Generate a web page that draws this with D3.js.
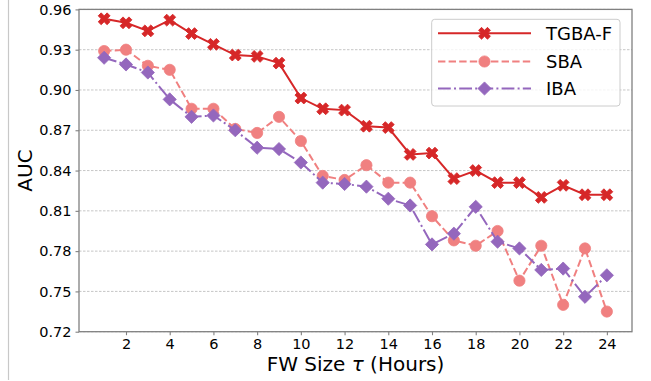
<!DOCTYPE html>
<html>
<head>
<meta charset="utf-8">
<script src="https://cdn.jsdelivr.net/npm/d3@7"></script>
<style>
  body { margin: 0; background: #fff; }
  text { font-family: "DejaVu Sans", sans-serif; fill: #000; }
</style>
</head>
<body>
<div id="chart"></div>
<script>
// values
var hours = [1, 2, 3, 4, 5, 6, 7, 8, 9, 10, 11, 12, 13, 14, 15, 16, 17, 18, 19, 20, 21, 22, 23, 24];
var tgbaF = [0.953, 0.950, 0.944, 0.952, 0.942, 0.934, 0.926, 0.925, 0.920, 0.894, 0.886, 0.885,
             0.873, 0.872, 0.852, 0.853, 0.834, 0.840, 0.831, 0.831, 0.820, 0.829, 0.822, 0.822];
var sba = [0.929, 0.930, 0.918, 0.915, 0.886, 0.886, 0.871, 0.868, 0.880, 0.862, 0.836, 0.833,
           0.844, 0.831, 0.831, 0.806, 0.788, 0.784, 0.795, 0.758, 0.784, 0.740, 0.782, 0.735];
var iba = [0.924, 0.919, 0.913, 0.893, 0.880, 0.881, 0.870, 0.857, 0.856, 0.846, 0.831, 0.830,
           0.828, 0.819, 0.814, 0.785, 0.793, 0.813, 0.787, 0.782, 0.766, 0.767, 0.746, 0.762];
var xTicks = [2, 4, 6, 8, 10, 12, 14, 16, 18, 20, 22, 24];
var yTicks = [0.72, 0.75, 0.78, 0.81, 0.84, 0.87, 0.90, 0.93, 0.96];
var seriesNames = ["TGBA-F", "SBA", "IBA"];

var W = 651, H = 381;
var pLeft = 79, pRight = 632, pTop = 9.4, pBottom = 331.7;

var svg = d3.select("#chart").append("svg")
    .attr("width", W).attr("height", H);

// stray frame line at the left edge of the picture
svg.append("line")
    .attr("x1", 8.5).attr("x2", 8.5).attr("y1", 0).attr("y2", 380)
    .style("stroke", "#c8c8c8").style("stroke-width", 1.2);

var x = d3.scaleLinear().domain([-0.15, 25.15]).range([pLeft, pRight]);
var y = d3.scaleLinear().domain([0.72, 0.96]).range([pBottom, pTop]);

// grid
svg.append("g").selectAll("line")
    .data(yTicks).enter().append("line")
    .attr("x1", pLeft).attr("x2", pRight)
    .attr("y1", d => y(d)).attr("y2", d => y(d))
    .style("stroke", "#b8b8b8").style("stroke-width", 0.8)
    .style("stroke-dasharray", "2.5,1.5");

// axes
var xAxis = svg.append("g")
    .attr("transform", "translate(0," + pBottom + ")")
    .call(d3.axisBottom(x).tickValues(xTicks).tickSize(3.5).tickPadding(4).tickFormat(d3.format("d")));
var yAxis = svg.append("g")
    .attr("transform", "translate(" + pLeft + ",0)")
    .call(d3.axisLeft(y).tickValues(yTicks).tickSize(3.5).tickPadding(4).tickFormat(d3.format(".2f")));
[xAxis, yAxis].forEach(g => {
    g.select(".domain").remove();
    g.attr("font-size", null).attr("font-family", null);
    g.selectAll(".tick line").style("stroke", "#808080").style("stroke-width", 1.1);
    g.selectAll(".tick text").style("font-size", "14.5px").attr("fill", "#000");
});

// frame
svg.append("rect")
    .attr("x", pLeft).attr("y", pTop)
    .attr("width", pRight - pLeft).attr("height", pBottom - pTop)
    .style("fill", "none").style("stroke", "#808080").style("stroke-width", 1.3);

// labels
svg.append("text")
    .attr("x", (pLeft + pRight) / 2).attr("y", 371)
    .attr("text-anchor", "middle").style("font-size", "20px")
    .html('FW Size <tspan font-style="italic">τ</tspan> (Hours)');
svg.append("text")
    .attr("transform", "translate(32," + (pTop + pBottom) / 2 + ") rotate(-90)")
    .attr("text-anchor", "middle").style("font-size", "20px")
    .text("AUC");

// series
var colors = ["#d62728", "#f08080", "#9467bd"];
var dashes = [null, "7.4,3.2", "12.8,3.2,2,3.2"];
var crossPath = d3.symbol().type(d3.symbolCross).size(88)();
var allData = [tgbaF, sba, iba];

function drawMarker(sel, i) {
    var mk;
    if (i === 0) {
        mk = sel.append("path").attr("d", crossPath).attr("transform", "rotate(45)");
    } else if (i === 1) {
        mk = sel.append("circle").attr("r", 5.6);
    } else {
        mk = sel.append("path").attr("d", "M0,-6.6L6.6,0L0,6.6L-6.6,0Z");
    }
    mk.style("fill", colors[i]).style("stroke", colors[i]).style("stroke-width", 0.8);
}

var line = d3.line().x(d => x(d[0])).y(d => y(d[1]));

allData.forEach((vals, i) => {
    var pts = hours.map((h, j) => [h, vals[j]]);
    svg.append("path")
        .datum(pts)
        .attr("d", line)
        .style("fill", "none")
        .style("stroke", colors[i])
        .style("stroke-width", 2)
        .style("stroke-dasharray", dashes[i]);
    var m = svg.append("g").selectAll("g")
        .data(pts).enter().append("g")
        .attr("transform", d => "translate(" + x(d[0]) + "," + y(d[1]) + ")");
    drawMarker(m, i);
});

// legend
var lg = svg.append("g");
lg.append("rect")
    .attr("x", 431.7).attr("y", 19.3).attr("width", 188.3).attr("height", 86.7)
    .attr("rx", 3)
    .style("fill", "#fff").style("fill-opacity", 0.8)
    .style("stroke", "#cccccc").style("stroke-width", 1);
var rowsY = [33.3, 61.5, 88.5];
seriesNames.forEach((name, i) => {
    var r = lg.append("g");
    r.append("line")
        .attr("x1", 438).attr("x2", 531).attr("y1", rowsY[i]).attr("y2", rowsY[i])
        .style("stroke", colors[i]).style("stroke-width", 2)
        .style("stroke-dasharray", dashes[i]);
    var mg = r.append("g").attr("transform", "translate(484.5," + rowsY[i] + ")");
    drawMarker(mg, i);
    r.append("text")
        .attr("x", 546).attr("y", rowsY[i] + 6.6)
        .style("font-size", "18px")
        .text(name);
});
</script>
</body>
</html>
